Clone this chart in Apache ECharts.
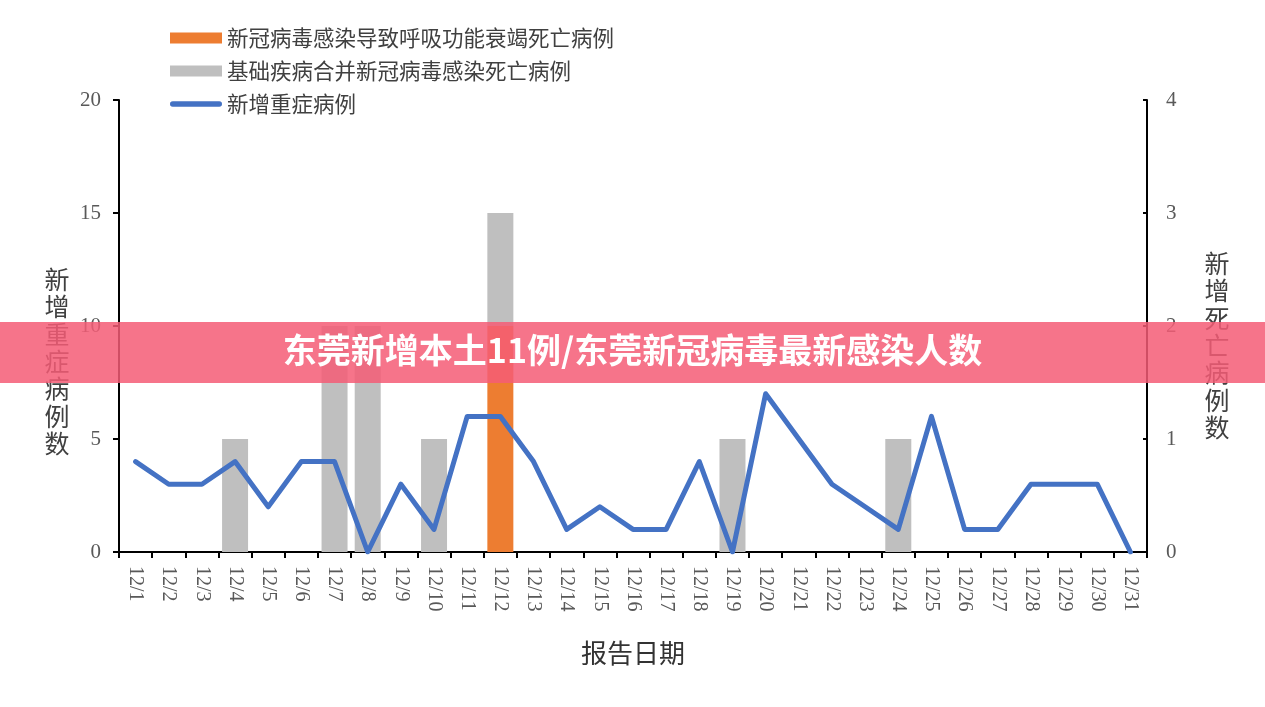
<!DOCTYPE html>
<html><head><meta charset="utf-8">
<script src="https://cdn.jsdelivr.net/npm/echarts@6/dist/echarts.min.js"></script>
<style>html,body{margin:0;padding:0;background:#fff}#c{width:1265px;height:707px}</style>
</head><body><div id="c"></div>
<script>
var categories = ['12/1','12/2','12/3','12/4','12/5','12/6','12/7','12/8','12/9','12/10','12/11','12/12','12/13','12/14','12/15','12/16','12/17','12/18','12/19','12/20','12/21','12/22','12/23','12/24','12/25','12/26','12/27','12/28','12/29','12/30','12/31'];
var severeCases = [4,3,3,4,2,4,4,0,3,1,6,6,4,1,2,1,1,4,0,7,5,3,2,1,6,1,1,3,3,3,0];
var respFailureDeaths = [null,null,null,null,null,null,null,null,null,null,null,2,null,null,null,null,null,null,null,null,null,null,null,null,null,null,null,null,null,null,null];
var comorbidDeaths = [null,null,null,1,null,null,2,2,null,1,null,1,null,null,null,null,null,null,1,null,null,null,null,1,null,null,null,null,null,null,null];
var leftTicks = [0,20,5];
var rightTicks = [0,4,1];
var seriesNames = ['新冠病毒感染导致呼吸功能衰竭死亡病例','基础疾病合并新冠病毒感染死亡病例','新增重症病例'];
var leftAxisName = '新增重症病例数';
var rightAxisName = '新增死亡病例数';
var xAxisName = '报告日期';
var bannerText = '东莞新增本土11例/东莞新冠病毒最新感染人数';

var chart = echarts.init(document.getElementById('c'));
var serif = '"Liberation Serif", "Times New Roman", serif';
var cjk = '"Noto Sans CJK SC", sans-serif';
function vert(s){ return s.split('').join('\n'); }
chart.setOption({
  animation: false,
  backgroundColor: '#fff',
  legend: {
    orient: 'vertical', left: 165, top: 22, itemGap: 11,
    itemWidth: 52, itemHeight: 11,
    data: [
      {name: seriesNames[0], icon: 'rect'},
      {name: seriesNames[1], icon: 'rect'},
      {name: seriesNames[2], icon: 'path://M3,0 H55 A3,3 0 0 1 55,6 H3 A3,3 0 0 1 3,0 Z'}
    ],
    textStyle: {fontFamily: cjk, fontSize: 21.5, color: '#404040', lineHeight: 22, padding: [0,0,0,0]}
  },
  grid: {left: 119, right: 118, top: 100, bottom: 155, containLabel: false},
  xAxis: {
    type: 'category', data: categories,
    name: xAxisName, nameLocation: 'middle', nameGap: 88,
    nameTextStyle: {fontFamily: cjk, fontSize: 26, color: '#333'},
    axisLine: {lineStyle: {color: '#000', width: 2}},
    axisTick: {show: true, length: 6, lineStyle: {color: '#000', width: 2}},
    axisLabel: {rotate: -90, fontFamily: serif, fontSize: 20, color: '#595959', margin: 14}
  },
  yAxis: [{
    type: 'value', min: leftTicks[0], max: leftTicks[1], interval: leftTicks[2],
    axisLine: {show: true, lineStyle: {color: '#000', width: 2}},
    axisTick: {show: true, length: 6, lineStyle: {color: '#000', width: 2}},
    axisLabel: {fontFamily: serif, fontSize: 21, color: '#595959', margin: 18},
    splitLine: {show: false}
  }, {
    type: 'value', min: rightTicks[0], max: rightTicks[1], interval: rightTicks[2],
    position: 'right',
    axisLine: {show: true, lineStyle: {color: '#000', width: 2}},
    axisTick: {show: true, inside: true, length: 4, lineStyle: {color: '#000', width: 2}},
    axisLabel: {fontFamily: serif, fontSize: 21, color: '#595959', margin: 19},
    splitLine: {show: false}
  }],
  series: [{
    name: seriesNames[0], type: 'bar', yAxisIndex: 1, stack: 'd', data: respFailureDeaths,
    barWidth: 26, itemStyle: {color: '#ED7D31'}
  }, {
    name: seriesNames[1], type: 'bar', yAxisIndex: 1, stack: 'd', data: comorbidDeaths,
    barWidth: 26, itemStyle: {color: '#BFBFBF'}
  }, {
    name: seriesNames[2], type: 'line', yAxisIndex: 0, data: severeCases,
    showSymbol: false, symbol: 'none', z: 5,
    lineStyle: {color: '#4472C4', width: 5, cap: 'round', join: 'round'},
    itemStyle: {color: '#4472C4'}
  }],
  graphic: [{
    type: 'text', x: 57, y: 266, z: 10,
    style: {text: vert(leftAxisName), fill: '#404040', font: '25px "Noto Sans CJK SC", sans-serif', lineHeight: 27.3, align: 'center', verticalAlign: 'top'}
  }, {
    type: 'text', x: 1217, y: 250, z: 10,
    style: {text: vert(rightAxisName), fill: '#404040', font: '25px "Noto Sans CJK SC", sans-serif', lineHeight: 27.3, align: 'center', verticalAlign: 'top'}
  }, {
    type: 'rect', left: 0, top: 322, z: 100,
    shape: {width: 1265, height: 61},
    style: {fill: 'rgba(244,92,118,0.85)'}
  }, {
    type: 'text', left: 'center', top: 333, z: 101,
    style: {text: bannerText, fill: '#fff', font: 'bold 34px "Noto Sans CJK SC", sans-serif'}
  }]
});
</script>
</body></html>
